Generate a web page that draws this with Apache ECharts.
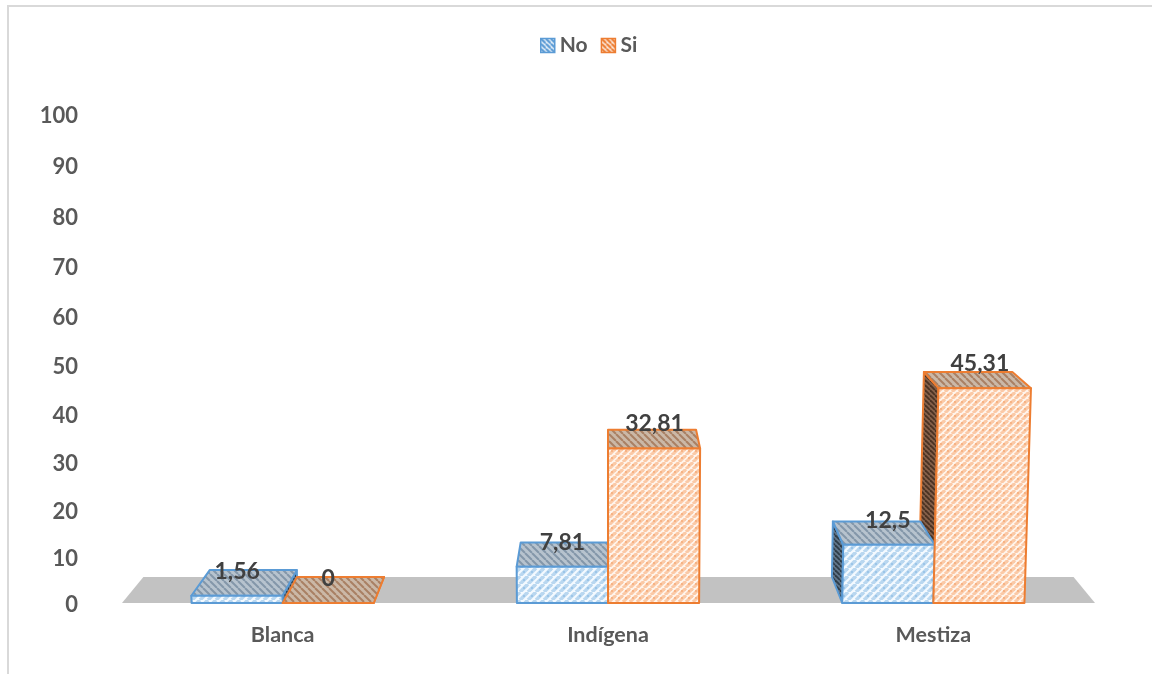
<!DOCTYPE html>
<html>
<head>
<meta charset="utf-8">
<title>Etnia</title>
<script src="https://cdn.jsdelivr.net/npm/echarts@6/dist/echarts.min.js"></script>
<style>
  html, body { margin: 0; padding: 0; background: #fff; }
  #chart { width: 1152px; height: 674px; }
</style>
</head>
<body>
<div id="chart"></div>
<script>
const categories = ['Blanca', 'Indígena', 'Mestiza'];
const noValues = [1.56, 7.81, 12.5];
const siValues = [0, 32.81, 45.31];
const yTicks = [0, 10, 20, 30, 40, 50, 60, 70, 80, 90, 100];

// Grid box and the oblique camera used to turn the flat axes into a 3D scene.
const GRID = { left: 120, top: 115, width: 976, height: 488 };
const BAR_BAND = 0.28;       // one bar's width, as a share of a category band
const PERSP_NEAR = 0.947;    // scale of heights close to the floor
const PERSP_GROW = 0.00056;  // growth of that scale with the value
const LEAN = 7.3e-5;         // outward lean of verticals per px of height
const DEPTH_X = 0.044;       // pull of the back edge toward the centre line
const DEPTH_Y = 26;          // px the floor recedes upward
const DEPTH_Y_FADE = 0.046;  // how quickly that recession shrinks with height
const TICK_NUDGE = 2;        // tick labels sit slightly below their level

const FONT = 'Lato, "Noto Sans", sans-serif';
const AXIS_COLOR = '#595959';
const LABEL_COLOR = '#404040';

function hatch(bg, stripe, dot, flip, period, width) {
  const c = document.createElement('canvas');
  c.width = c.height = period;
  const g = c.getContext('2d');
  g.fillStyle = bg;
  g.fillRect(0, 0, period, period);
  g.strokeStyle = stripe;
  g.lineWidth = width;
  for (let k = -1; k <= 1; k++) {
    g.beginPath();
    if (flip) {
      g.moveTo(k * period, 0);
      g.lineTo((k + 1) * period, period);
    } else {
      g.moveTo(k * period, period);
      g.lineTo((k + 1) * period, 0);
    }
    g.stroke();
  }
  if (dot) {
    // The dots ride on the stripe, where the tile's diagonal crosses its centre.
    g.fillStyle = dot;
    g.fillRect(Math.floor(period / 2) - 1, Math.floor(period / 2) - 1, 2, 2);
  }
  return { image: c, repeat: 'repeat' };
}

const STYLES = {
  No: {
    edge: '#5b9bd5',
    front: hatch('#f4faff', '#b9d7f0', '#9cc5e8', false, 8, 3.6),
    top: hatch('#b7c3ce', '#8497a9', null, true, 7, 2),
    side: hatch('#62768a', '#2f3c48', null, true, 5, 1.8),
    legend: hatch('#ffffff', '#5b9bd5', null, true, 5, 2.4)
  },
  Si: {
    edge: '#ed7d31',
    front: hatch('#fff4ec', '#fbc9a6', '#f6b385', false, 7, 3.2),
    top: hatch('#cbb8a7', '#a98064', null, true, 7, 2),
    side: hatch('#86614a', '#4a3222', null, true, 5, 1.8),
    legend: hatch('#ffffff', '#ed7d31', null, true, 5, 2.4)
  }
};

// Height in px on screen for a value, given its height on the flat axis.
function screenRise(linearRise, value) {
  return linearRise * PERSP_NEAR / (1 - PERSP_GROW * value);
}

function makeProjector(api, baseY) {
  const centreX = api.coord([1, 0])[0];
  return function (x, rise, back) {
    const leaned = x + (x - centreX) * LEAN * rise;
    if (!back) return [leaned, baseY - rise];
    return [
      leaned + (centreX - leaned) * DEPTH_X,
      baseY - rise - (DEPTH_Y - DEPTH_Y_FADE * rise)
    ];
  };
}

function barRenderer(seriesKey, direction) {
  const st = STYLES[seriesKey];
  const baseZ = seriesKey === 'No' ? 20 : 30;
  return function (params, api) {
    const cat = api.value(0);
    const value = api.value(1);
    const base = api.coord([cat, 0]);
    const tip = api.coord([cat, value]);
    const band = api.size([1, 0])[0];
    const w = band * BAR_BAND;
    const rise = screenRise(base[1] - tip[1], value);
    const P = makeProjector(api, base[1]);
    const x0 = direction < 0 ? base[0] - w : base[0];
    const x1 = x0 + w;
    const centreX = api.coord([1, 0])[0];
    const edge = { stroke: st.edge, lineWidth: 2, lineJoin: 'round' };
    const face = (points, fill, z2) => ({
      type: 'polygon',
      shape: { points },
      style: Object.assign({ fill }, edge),
      z2
    });
    const children = [];
    // Only the flank turned toward the camera is visible.
    if (x0 > centreX) {
      children.push(face([P(x0, 0), P(x0, rise), P(x0, rise, true), P(x0, 0, true)], st.side, seriesKey === 'Si' ? 10 : 20));
    } else if (x1 < centreX) {
      children.push(face([P(x1, 0), P(x1, rise), P(x1, rise, true), P(x1, 0, true)], st.side, baseZ));
    }
    children.push(face([P(x0, rise), P(x1, rise), P(x1, rise, true), P(x0, rise, true)], st.top, baseZ + 1));
    children.push(face([P(x0, 0), P(x1, 0), P(x1, rise), P(x0, rise)], st.front, baseZ + 2));
    const backTop = P(x0, rise, true)[1];
    children.push({
      type: 'text',
      z2: 50,
      style: {
        text: String(value).replace('.', ','),
        x: (x0 + x1) / 2 + (seriesKey === 'Si' && value > 0 ? 1 : 0),
        y: backTop + 2 - rise * 0.05,
        font: 'bold 23px ' + FONT,
        fill: LABEL_COLOR,
        align: 'center',
        verticalAlign: 'middle'
      }
    });
    return { type: 'group', children };
  };
}

function floorRenderer(params, api) {
  const box = params.coordSys;
  const P = makeProjector(api, box.y + box.height);
  const l = box.x + 2;
  const r = box.x + box.width - 1;
  return {
    type: 'polygon',
    z2: 1,
    shape: { points: [P(l, 0), P(r, 0), P(r, 0, true), P(l, 0, true)] },
    style: { fill: '#c2c2c2' }
  };
}

// Tick labels follow the same foreshortening as the bars.
const tickRich = {};
yTicks.forEach(v => {
  const linear = v * GRID.height / 100;
  const shift = linear - screenRise(linear, v) + TICK_NUDGE;
  tickRich['t' + v] = {
    padding: [Math.max(0, 2 * shift), 0, 0, 0],
    fontFamily: FONT,
    fontWeight: 'bold',
    fontSize: 22,
    color: AXIS_COLOR
  };
});

const chart = echarts.init(document.getElementById('chart'), null, { renderer: 'canvas' });
chart.setOption({
  animation: false,
  backgroundColor: '#ffffff',
  grid: GRID,
  legend: {
    top: 30,
    left: 535,
    itemWidth: 14,
    itemHeight: 14,
    itemGap: 13,
    textStyle: { color: AXIS_COLOR, fontFamily: FONT, fontWeight: 'bold', fontSize: 21 },
    data: [
      { name: 'No', icon: 'rect', itemStyle: { color: STYLES.No.legend, borderColor: STYLES.No.edge, borderWidth: 1.5 } },
      { name: 'Si', icon: 'rect', itemStyle: { color: STYLES.Si.legend, borderColor: STYLES.Si.edge, borderWidth: 1.5 } }
    ],
    selectedMode: false
  },
  xAxis: {
    type: 'category',
    data: categories,
    axisLine: { show: false },
    axisTick: { show: false },
    axisLabel: { margin: 21, color: AXIS_COLOR, fontFamily: FONT, fontWeight: 'bold', fontSize: 21.5 }
  },
  yAxis: {
    type: 'value',
    min: 0,
    max: 100,
    interval: 10,
    axisLine: { show: false },
    axisTick: { show: false },
    splitLine: { show: false },
    axisLabel: {
      margin: 42,
      formatter: v => `{t${v}|${v}}`,
      rich: tickRich
    }
  },
  graphic: [{
    type: 'polyline',
    silent: true,
    shape: { points: [[8, 674], [8, 6], [1152, 6]] },
    style: { fill: null, stroke: '#d9d9d9', lineWidth: 2 }
  }],
  series: [
    { type: 'custom', name: 'Piso', silent: true, data: [[0, 0]], renderItem: floorRenderer },
    { type: 'custom', name: 'No', silent: true, data: noValues.map((v, i) => [i, v]),
      itemStyle: { color: '#5b9bd5' }, renderItem: barRenderer('No', -1) },
    { type: 'custom', name: 'Si', silent: true, data: siValues.map((v, i) => [i, v]),
      itemStyle: { color: '#ed7d31' }, renderItem: barRenderer('Si', 1) }
  ]
});
</script>
</body>
</html>
